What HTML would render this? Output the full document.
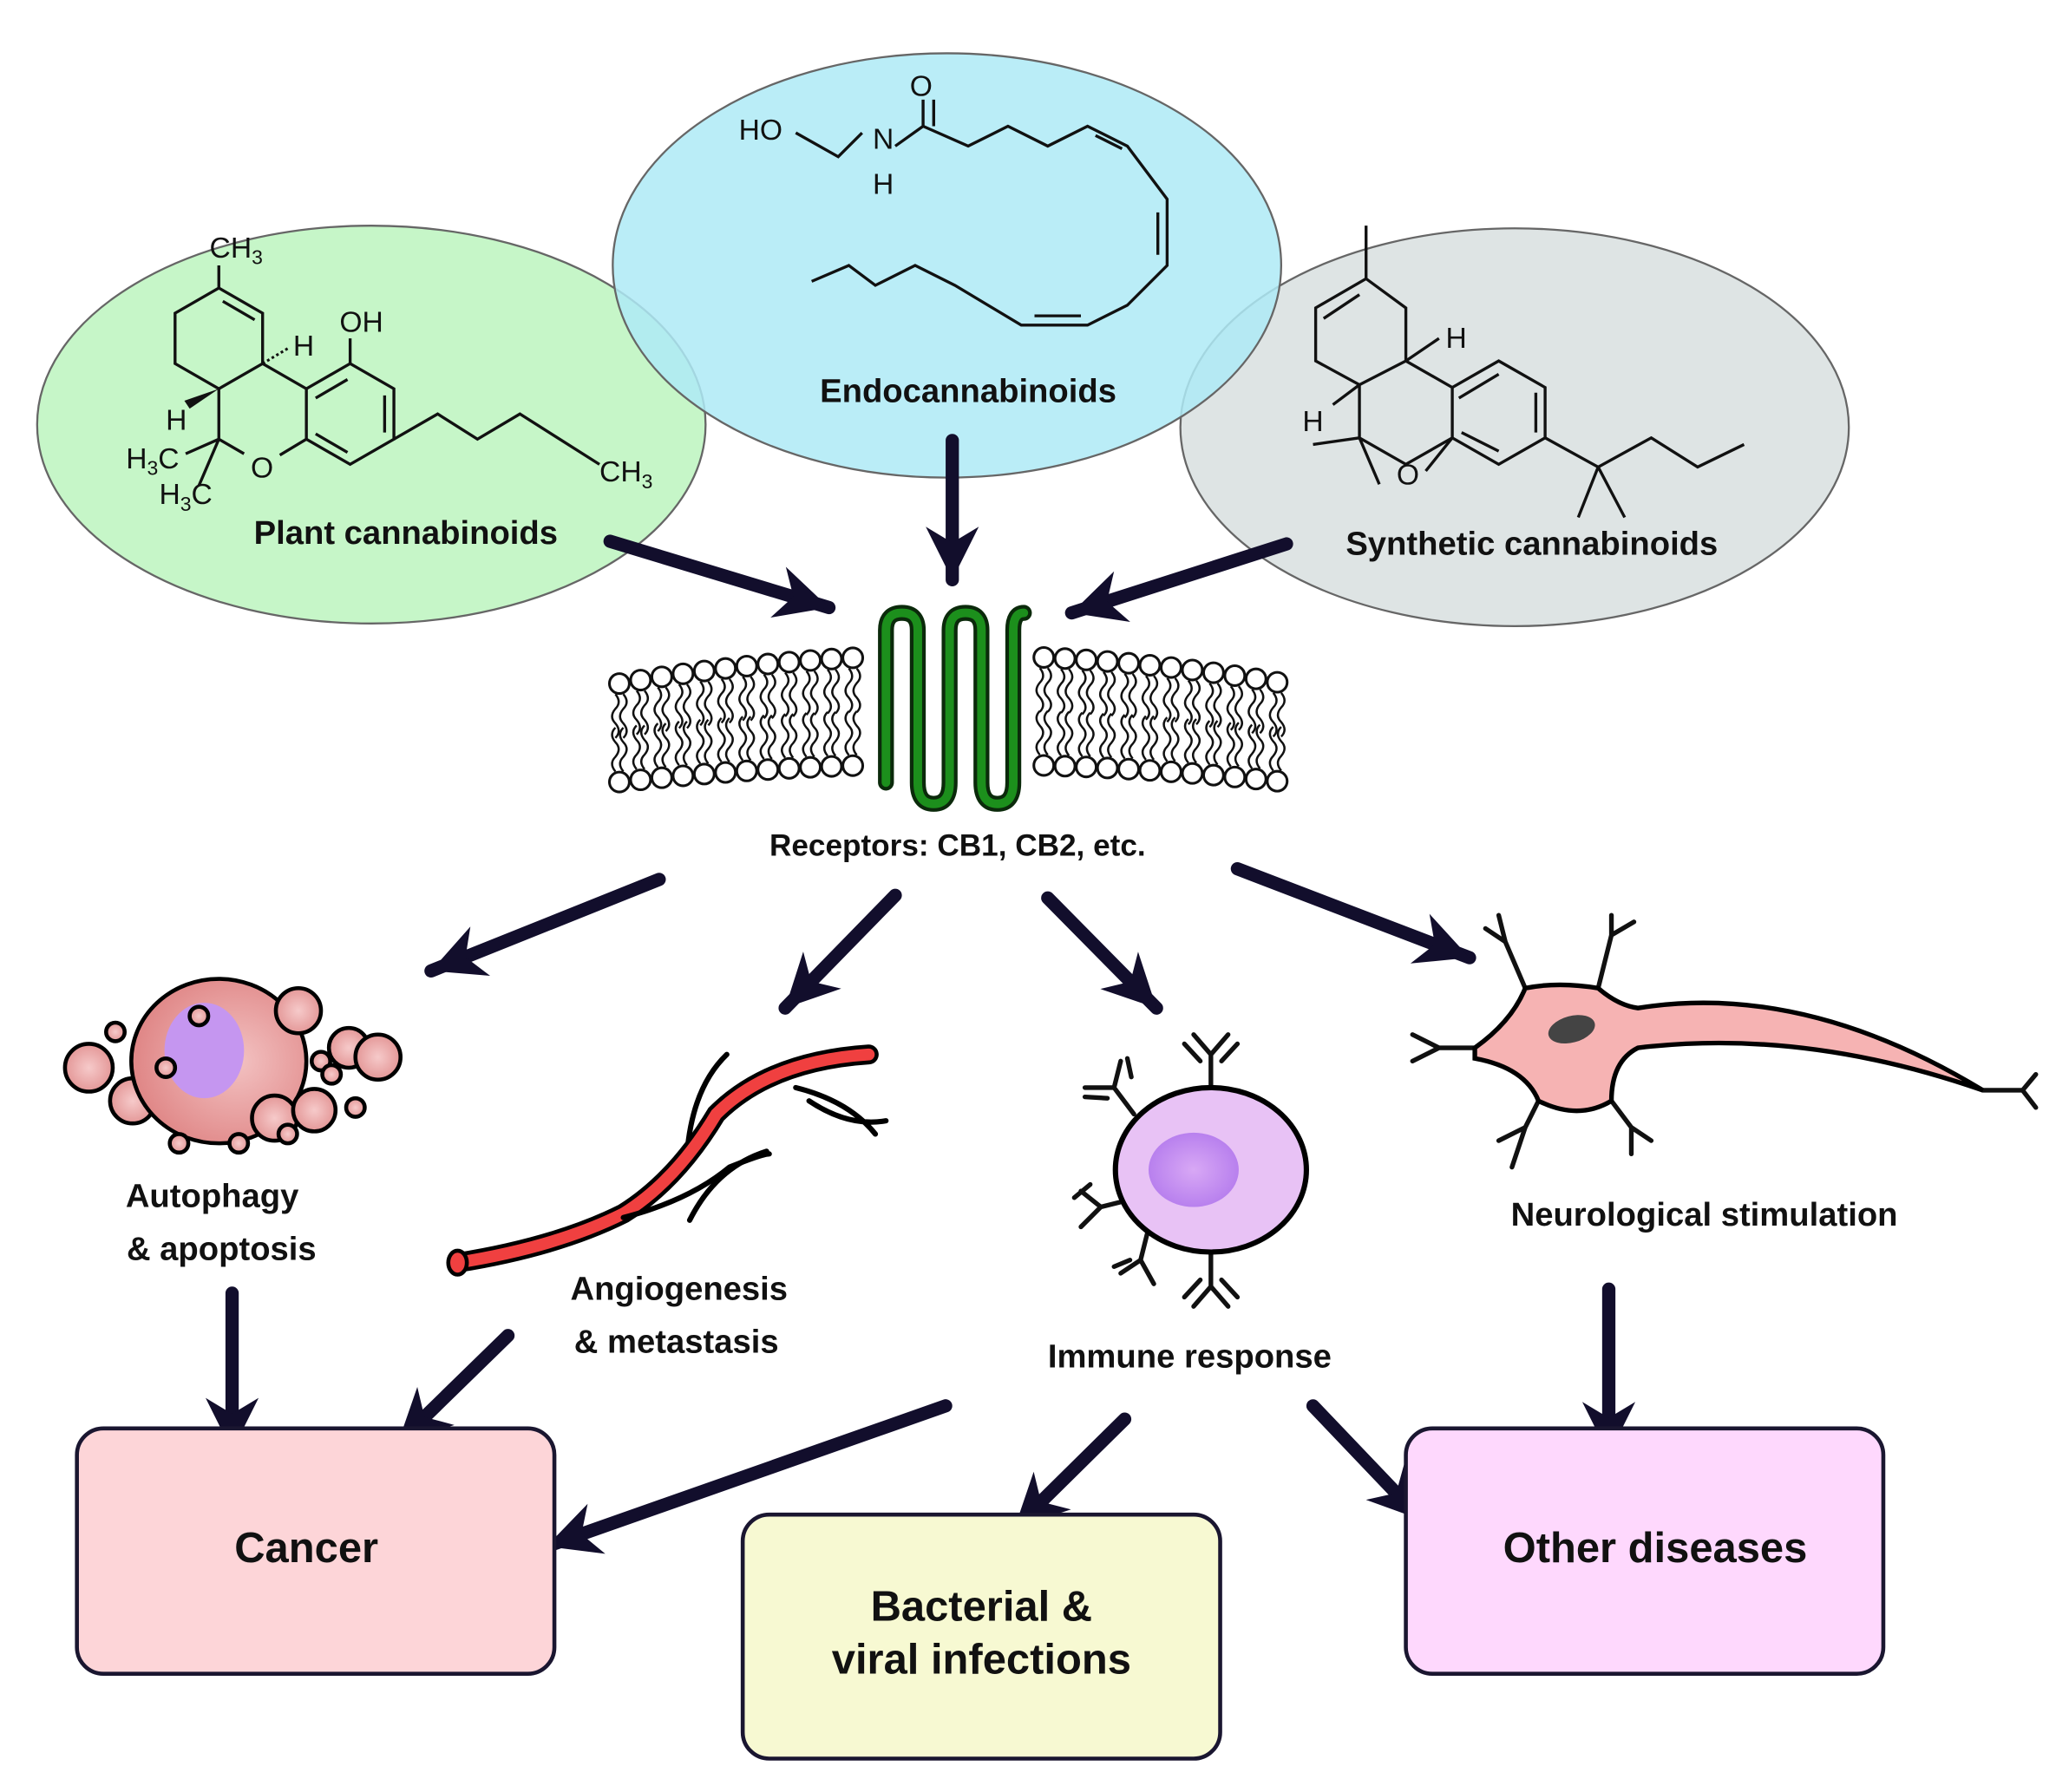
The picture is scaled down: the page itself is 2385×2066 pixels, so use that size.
<!DOCTYPE html>
<html><head><meta charset="utf-8"><style>
html,body{margin:0;padding:0;background:#fff}
svg{display:block}
text{font-family:"Liberation Sans",sans-serif}
.lb{font-family:"Liberation Sans",sans-serif;font-weight:bold;fill:#111}
.ch{font-family:"Liberation Sans",sans-serif;font-size:22px;fill:#111}
.bd{fill:none;stroke:#111;stroke-width:2.2}
.ar{stroke:#120e2c;stroke-width:10;stroke-linecap:round;fill:none}
</style></head><body>
<svg id="s" width="2385" height="2066" viewBox="0 0 1560 1351" xmlns="http://www.w3.org/2000/svg">
<defs>
<marker id="ah" markerUnits="userSpaceOnUse" markerWidth="60" markerHeight="60" refX="50" refY="30" orient="auto">
<path d="M50,30 L10,10 L22,30 L10,50 Z" fill="#120e2c"/>
</marker>
<radialGradient id="cg" cx="0.6" cy="0.5" r="0.6"><stop offset="0" stop-color="#f3c2c2"/><stop offset="1" stop-color="#df8585"/></radialGradient>
<radialGradient id="bg" cx="0.5" cy="0.5" r="0.6"><stop offset="0" stop-color="#f6caca"/><stop offset="1" stop-color="#e08d8d"/></radialGradient>
<radialGradient id="ng" cx="0.5" cy="0.5" r="0.5"><stop offset="0" stop-color="#d8a8f5"/><stop offset="1" stop-color="#b880ee"/></radialGradient>
</defs>

<ellipse cx="280" cy="320" rx="252" ry="150" fill="#c6f6c8" stroke="#666" stroke-width="1.5"/>
<ellipse cx="1142" cy="322" rx="252" ry="150" fill="#dee4e4" stroke="#666" stroke-width="1.5"/>
<ellipse cx="714" cy="200" rx="252" ry="160" fill="#aeeaf6" fill-opacity="0.85" stroke="#666" stroke-width="1.5"/>

<!-- THC -->
<g class="bd">
<path d="M165,217 L198,236 L198,274 L165,293 L132,274 L132,236 Z"/>
<path d="M165,217 L165,200 M168,227 L192,241"/>
<path d="M198,274 L231,293 L231,331 L211,343 M184,342 L165,331 L165,293"/>
<path d="M231,293 L264,274 L297,293 L297,331 L264,350 L231,331"/>
<path d="M238,300 L262,286 M290,298 L290,326 M262,341 L238,327"/>
<path d="M264,274 L264,255"/>
<path d="M297,331 L330,312 L360,331 L392,312 L422,331 L452,350"/>
<path d="M165,331 L140,342 M165,331 L150,366"/>
</g>
<path d="M165,293 L143,308 L139,302 Z" fill="#111"/>
<path d="M198,274 L218,262" stroke="#111" stroke-width="2" stroke-dasharray="2 2"/>
<text class="ch" x="158" y="194">CH<tspan font-size="15" dy="5">3</tspan></text>
<text class="ch" x="256" y="250">OH</text>
<text class="ch" x="221" y="268" font-size="20">H</text>
<text class="ch" x="125" y="324" font-size="20">H</text>
<text class="ch" x="189" y="360">O</text>
<text class="ch" x="95" y="353">H<tspan font-size="15" dy="5">3</tspan><tspan dy="-5">C</tspan></text>
<text class="ch" x="120" y="380">H<tspan font-size="15" dy="5">3</tspan><tspan dy="-5">C</tspan></text>
<text class="ch" x="452" y="363">CH<tspan font-size="15" dy="5">3</tspan></text>
<text class="lb" x="306" y="410" font-size="25" text-anchor="middle">Plant cannabinoids</text>

<!-- Anandamide -->
<g class="bd">
<path d="M600,100 L632,118 L650,100"/>
<path d="M675,110 L696,95 L696,75 M704,95 L704,75"/>
<path d="M696,95 L730,110 L760,95 L790,110 L820,95 L850,110 L880,150 L880,200 L850,230 L820,245 L770,245 L720,215 L690,200 L660,215 L640,200 L612,212"/>
<path d="M826,102 L846,112 M873,160 L873,192 M815,238 L780,238"/>
</g>
<text class="ch" x="557" y="105">HO</text>
<text class="ch" x="658" y="112">N</text>
<text class="ch" x="658" y="146">H</text>
<text class="ch" x="686" y="72">O</text>
<text class="lb" x="730" y="303" font-size="25" text-anchor="middle">Endocannabinoids</text>

<!-- Synthetic -->
<g class="bd">
<path d="M1030,210 L992,232 L992,272 L1025,290 L1060,272 L1060,232 Z"/>
<path d="M1030,210 L1030,170 M998,240 L1025,222"/>
<path d="M1060,272 L1095,292 L1095,330 L1060,350 L1025,330 L1025,290"/>
<path d="M1095,292 L1130,272 L1165,292 L1165,330 L1130,350 L1095,330 M1100,300 L1130,282 M1158,296 L1158,326 M1130,340 L1102,326"/>
<path d="M1060,272 L1085,255 M1025,290 L1005,305"/>
<path d="M1025,330 L990,335 M1025,330 L1040,365 M1075,355 L1095,330"/>
<path d="M1165,330 L1205,352 L1245,330 L1280,352 L1315,335 M1205,352 L1190,390 M1205,352 L1225,390"/>
</g>
<text class="ch" x="1090" y="262" font-size="24">H</text>
<text class="ch" x="982" y="325" font-size="24">H</text>
<text class="ch" x="1053" y="365" font-size="24">O</text>
<text class="lb" x="1155" y="418" font-size="25" text-anchor="middle">Synthetic cannabinoids</text>

<line class="ar" x1="460" y1="408" x2="625" y2="458" marker-end="url(#ah)"/>
<line class="ar" x1="718" y1="332" x2="718" y2="437" marker-end="url(#ah)"/>
<line class="ar" x1="970" y1="410" x2="808" y2="462" marker-end="url(#ah)"/>

<g id="mem"></g>
<path d="M668,590 L668,475 Q668,462 680,462 Q692,462 692,475 L692,590 Q692,606 704,606 Q716,606 716,590 L716,475 Q716,462 728,462 Q740,462 740,475 L740,590 Q740,606 752,606 Q764,606 764,590 L764,475 Q764,462 772,462" fill="none" stroke="#0b2a0b" stroke-width="12" stroke-linecap="round"/>
<path d="M668,590 L668,475 Q668,462 680,462 Q692,462 692,475 L692,590 Q692,606 704,606 Q716,606 716,590 L716,475 Q716,462 728,462 Q740,462 740,475 L740,590 Q740,606 752,606 Q764,606 764,590 L764,475 Q764,462 772,462" fill="none" stroke="#1c8f1c" stroke-width="6.5" stroke-linecap="round"/>
<text class="lb" x="722" y="645" font-size="23" text-anchor="middle">Receptors: CB1, CB2, etc.</text>

<line class="ar" x1="497" y1="663" x2="325" y2="732" marker-end="url(#ah)"/>
<line class="ar" x1="675" y1="675" x2="592" y2="760" marker-end="url(#ah)"/>
<line class="ar" x1="790" y1="677" x2="872" y2="760" marker-end="url(#ah)"/>
<line class="ar" x1="933" y1="655" x2="1108" y2="722" marker-end="url(#ah)"/>

<g stroke="#000" stroke-width="3" fill="url(#bg)">
<circle cx="100" cy="830" r="17"/>
<circle cx="67" cy="805" r="18"/>
<circle cx="87" cy="778" r="7"/>
<ellipse cx="165" cy="800" rx="66" ry="62" fill="url(#cg)"/>
<ellipse cx="154" cy="792" rx="30" ry="36" fill="#c596f0" stroke="none"/>
<circle cx="150" cy="766" r="7"/>
<circle cx="125" cy="805" r="7"/>
<circle cx="225" cy="762" r="17"/>
<circle cx="263" cy="790" r="15"/>
<circle cx="285" cy="797" r="17"/>
<circle cx="242" cy="800" r="7"/>
<circle cx="250" cy="810" r="7"/>
<circle cx="207" cy="843" r="17"/>
<circle cx="237" cy="837" r="16"/>
<circle cx="268" cy="835" r="7"/>
<circle cx="217" cy="855" r="7"/>
<circle cx="135" cy="862" r="7"/>
<circle cx="180" cy="862" r="7"/>
</g>
<text class="lb" x="160" y="910" font-size="25" text-anchor="middle">Autophagy</text>
<text class="lb" x="167" y="950" font-size="25" text-anchor="middle">&amp; apoptosis</text>

<g fill="none" stroke-linecap="round">
<path d="M548,795 Q522,820 518,870 M578,868 Q540,880 520,920" stroke="#000" stroke-width="4"/>
<path d="M600,820 Q640,830 660,855 M610,830 Q640,850 668,845" stroke="#000" stroke-width="4"/>
<path d="M345,952 Q420,940 470,915 Q510,890 540,840 Q580,800 655,795" stroke="#000" stroke-width="15"/>
<path d="M345,952 Q420,940 470,915 Q510,890 540,840 Q580,800 655,795" stroke="#f04040" stroke-width="9"/>
<path d="M470,918 Q520,905 550,880 Q575,870 580,870" stroke="#000" stroke-width="4"/>
</g>
<ellipse cx="345" cy="952" rx="7" ry="9" fill="#f04040" stroke="#000" stroke-width="3"/>
<text class="lb" x="512" y="980" font-size="25" text-anchor="middle">Angiogenesis</text>
<text class="lb" x="510" y="1020" font-size="25" text-anchor="middle">&amp; metastasis</text>

<g stroke="#111" stroke-width="3.5" fill="none" stroke-linecap="round">
<path d="M913,820 L913,795 M913,795 L900,780 M913,795 L926,780 M905,800 L893,787 M921,800 L933,787"/>
<path d="M913,945 L913,970 M913,970 L900,985 M913,970 L926,985 M905,965 L893,978 M921,965 L933,978"/>
<path d="M855,840 L840,820 L845,800 M840,820 L818,820 M850,798 L853,812 M818,827 L835,828"/>
<path d="M850,905 L830,910 L815,898 M830,910 L815,925 M822,893 L810,903"/>
<path d="M865,930 L860,950 L845,960 M860,950 L870,968 M852,950 L840,955"/>
</g>
<ellipse cx="913" cy="882" rx="72" ry="62" fill="#e8c2f5" stroke="#000" stroke-width="4"/>
<ellipse cx="900" cy="882" rx="34" ry="28" fill="url(#ng)"/>
<text class="lb" x="897" y="1031" font-size="25" text-anchor="middle">Immune response</text>

<g stroke="#111" stroke-width="3.5" fill="none" stroke-linecap="round">
<path d="M1150,745 L1135,710 L1130,690 M1135,710 L1120,700"/>
<path d="M1205,745 L1215,705 L1215,690 M1215,705 L1232,695"/>
<path d="M1115,790 L1085,790 L1065,780 M1085,790 L1065,800"/>
<path d="M1160,830 L1150,850 L1140,880 M1150,850 L1130,860"/>
<path d="M1215,830 L1230,850 L1245,860 M1230,850 L1230,870"/>
<path d="M1495,822 L1525,822 L1535,810 M1525,822 L1535,835"/>
</g>
<path d="M1112,790 Q1140,770 1150,745 Q1175,740 1205,745 Q1220,758 1235,760 Q1360,740 1495,822 Q1360,775 1235,790 Q1215,800 1215,830 Q1190,845 1160,830 Q1150,805 1112,798 Z" fill="#f6b3b3" stroke="#000" stroke-width="3.5"/>
<ellipse cx="1185" cy="776" rx="18" ry="10" transform="rotate(-15 1185 776)" fill="#444"/>
<text class="lb" x="1285" y="924" font-size="25" text-anchor="middle">Neurological stimulation</text>

<line class="ar" x1="175" y1="975" x2="175" y2="1094" marker-end="url(#ah)"/>
<line class="ar" x1="383" y1="1007" x2="300" y2="1088" marker-end="url(#ah)"/>
<line class="ar" x1="713" y1="1060" x2="412" y2="1166" marker-end="url(#ah)"/>
<line class="ar" x1="848" y1="1070" x2="765" y2="1152" marker-end="url(#ah)"/>
<line class="ar" x1="990" y1="1060" x2="1072" y2="1146" marker-end="url(#ah)"/>
<line class="ar" x1="1213" y1="972" x2="1213" y2="1097" marker-end="url(#ah)"/>

<rect x="58" y="1077" width="360" height="185" rx="20" fill="#fdd5d8" stroke="#1a1630" stroke-width="3"/>
<rect x="560" y="1142" width="360" height="184" rx="20" fill="#f7f9d2" stroke="#1a1630" stroke-width="3"/>
<rect x="1060" y="1077" width="360" height="185" rx="20" fill="#fed8fd" stroke="#1a1630" stroke-width="3"/>
<text class="lb" x="231" y="1178" font-size="32" text-anchor="middle">Cancer</text>
<text class="lb" x="740" y="1222" font-size="32" text-anchor="middle">Bacterial &amp;</text>
<text class="lb" x="740" y="1262" font-size="32" text-anchor="middle">viral infections</text>
<text class="lb" x="1248" y="1178" font-size="32" text-anchor="middle">Other diseases</text>
</svg>
<script>
(function(){
var g=document.getElementById("mem"),h="";
function topY(x){var t=(x-718)/255;return 494+22*t*t;}
function botY(x){var t=(x-718)/255;return 576+14*t*t;}
for(var x=467;x<=972;x+=16){
 if(x>650&&x<785)continue;
 var ty=topY(x),by=botY(x);
 var a=ty+8,b=by-8;
 for(var k=-1;k<=1;k+=2){
  var xx=x+k*3;
  h+='<path d="M'+xx+','+a+' q5,6 0,11 q-5,6 0,11 q5,6 0,11" fill="none" stroke="#111" stroke-width="1.6"/>';
  h+='<path d="M'+xx+','+b+' q-5,-6 0,-11 q5,-6 0,-11 q-5,-6 0,-11" fill="none" stroke="#111" stroke-width="1.6"/>';
 }
 h+='<circle cx="'+x+'" cy="'+ty+'" r="7.5" fill="#fff" stroke="#111" stroke-width="2"/>';
 h+='<circle cx="'+x+'" cy="'+by+'" r="7.5" fill="#fff" stroke="#111" stroke-width="2"/>';
}
g.innerHTML=h;
})();
</script>
</body></html>
